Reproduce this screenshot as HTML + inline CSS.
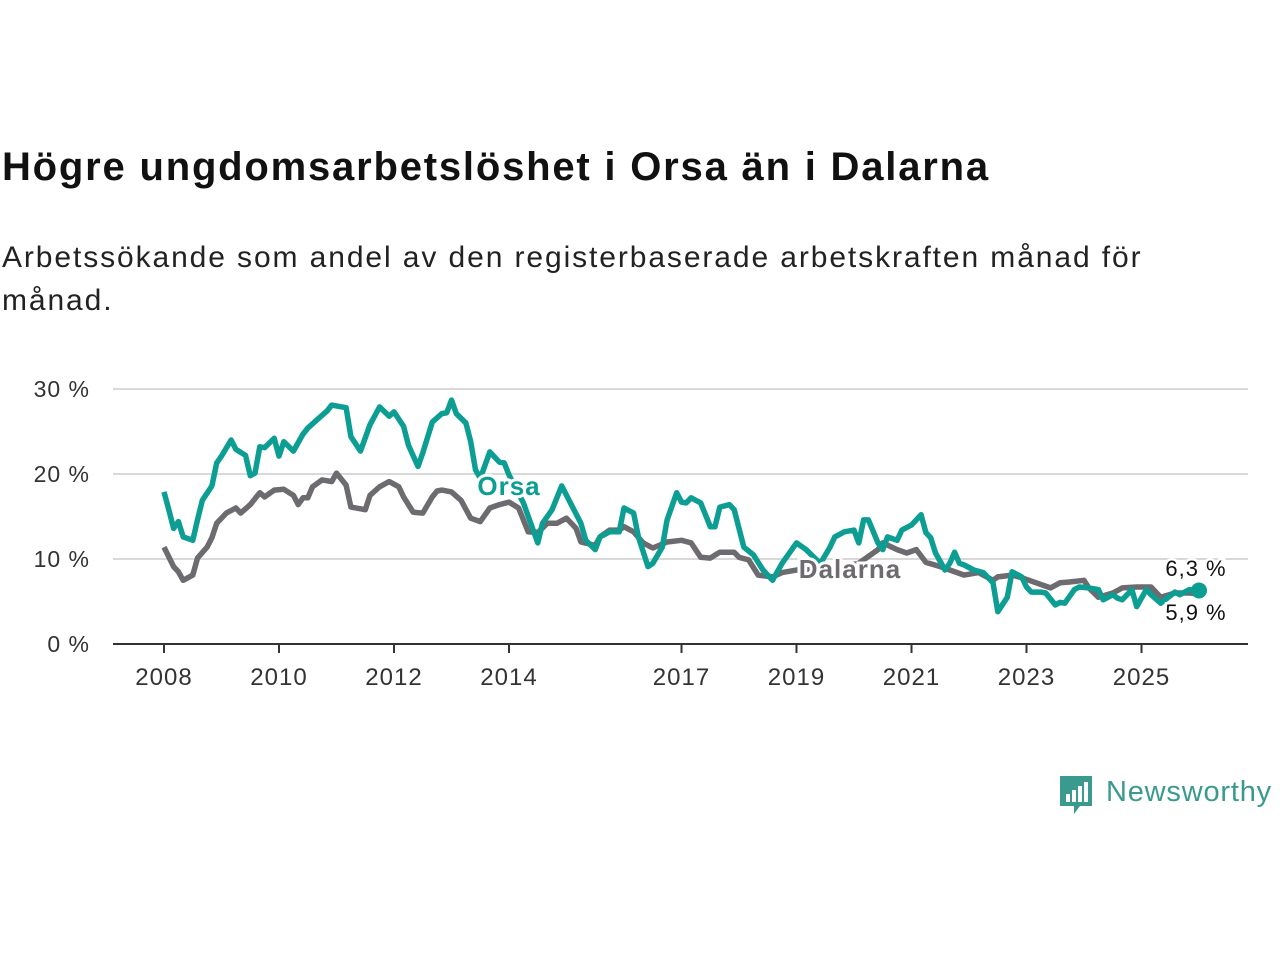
<!DOCTYPE html>
<html><head><meta charset="utf-8">
<style>
body{margin:0;background:#fff;width:1280px;height:960px;overflow:hidden;font-family:"Liberation Sans",sans-serif;}
h1{position:absolute;left:2px;top:145px;margin:0;font-size:40px;font-weight:bold;color:#111;letter-spacing:1.8px}
.sub{position:absolute;left:2px;top:236px;margin:0;font-size:30px;line-height:43px;color:#222;width:1250px;letter-spacing:1.9px}
svg{position:absolute;left:0;top:0}
</style></head><body>
<h1>Högre ungdomsarbetslöshet i Orsa än i Dalarna</h1>
<p class="sub">Arbetssökande som andel av den registerbaserade arbetskraften månad för<br>månad.</p>
<svg id="chart" width="1280" height="960"></svg>
<script>
const yTicks=[0,10,20,30];
const yTickLabels=["0 %","10 %","20 %","30 %"];
const xTickYears=[2008,2010,2012,2014,2017,2019,2021,2023,2025];
const orsaMonths=[0,1,2,3,4,6,7,8,10,11,12,14,15,17,18,19,20,21,23,24,25,27,29,30,32,34,35,38,39,41,43,45,47,48,50,51,53,54,56,58,59,60,61,63,64,65,66,68,70,71,72,75,78,79,81,83,84,85,87,88,90,91,93,95,96,98,99,101,102,104,105,107,108,109,110,112,114,115,116,118,119,121,123,125,127,129,132,134,136,137,139,140,142,144,145,146,147,149,150,151,153,154,156,158,159,160,161,163,164,165,166,167,169,171,173,174,176,177,179,180,181,183,184,186,187,188,190,191,193,195,196,198,199,200,202,203,205,206,208,211,212,214,216];
const orsaValues=[17.9,15.8,13.6,14.4,12.6,12.2,14.6,16.9,18.6,21.3,22.1,24,22.9,22.2,19.8,20.1,23.2,23.1,24.2,22.1,23.8,22.7,24.7,25.4,26.4,27.4,28.1,27.8,24.4,22.7,25.8,27.9,26.8,27.3,25.6,23.4,20.9,22.5,26.1,27.1,27.2,28.7,27.1,26,23.8,20.5,19.5,22.6,21.4,21.3,19.9,16.6,11.9,14.2,15.8,18.6,17.5,16.4,14.2,12.2,11.1,12.6,13.2,13.2,16,15.4,12.6,9.1,9.5,11.4,14.6,17.8,16.7,16.6,17.2,16.6,13.8,13.8,16.1,16.4,15.8,11.4,10.5,8.7,7.5,9.5,11.9,11.1,10,9.5,11.4,12.6,13.2,13.4,11.9,14.6,14.6,11.9,11.1,12.6,12.2,13.4,14,15.2,13.1,12.5,10.7,8.7,9.5,10.8,9.5,9.3,8.7,8.4,7.2,3.8,5.5,8.5,7.9,6.7,6.1,6.1,6.0,4.6,4.9,4.8,6.4,6.7,6.6,6.4,5.2,5.8,5.4,5.2,6.4,4.4,6.4,5.8,4.8,6.1,5.8,6.4,6.3];
const dalMonths=[0,2,3,4,6,7,9,10,11,13,15,16,18,20,21,23,25,27,28,29,30,31,33,35,36,38,39,42,43,45,47,49,50,52,54,56,57,58,60,62,64,66,68,70,72,74,76,78,80,82,84,86,87,90,91,93,95,96,98,100,102,105,108,110,112,114,116,119,120,122,124,127,129,133,137,141,145,149,150,153,155,157,159,162,164,167,170,173,174,177,179,182,185,187,189,192,193,195,198,200,203,206,207,208,211,214,216];
const dalValues=[11.4,9.1,8.5,7.5,8.1,10.1,11.4,12.5,14.2,15.4,16,15.4,16.4,17.8,17.3,18.1,18.2,17.5,16.4,17.2,17.2,18.5,19.3,19.1,20.1,18.7,16.1,15.8,17.5,18.5,19.1,18.5,17.3,15.5,15.4,17.3,18,18.1,17.9,16.9,14.8,14.4,16,16.4,16.7,16,13.2,13.1,14.2,14.2,14.8,13.6,12,11.6,12.6,13.4,13.4,13.8,13.2,11.9,11.3,12,12.2,11.9,10.2,10.1,10.8,10.8,10.2,9.9,8.1,7.9,8.4,8.8,8.6,9,9.5,11.1,11.9,11.1,10.7,11.1,9.6,9.1,8.7,8.1,8.4,7.5,7.9,8.1,7.8,7.2,6.6,7.2,7.3,7.5,6.6,5.5,6,6.6,6.7,6.7,6.1,5.5,6,6,5.9];
const orsaLast="6,3 %", dalLast="5,9 %";

const NS="http://www.w3.org/2000/svg";
const svg=document.getElementById('chart');
const xMonth=m=>164+m*57.5/12;
const xYear=y=>164+(y-2008)*57.5;
const yVal=v=>644-v*8.5;
function mk(tag,attrs,parent){const e=document.createElementNS(NS,tag);for(const k in attrs)e.setAttribute(k,attrs[k]);(parent||svg).appendChild(e);return e;}

yTicks.forEach((t,i)=>{
  if(t>0){const g=mk('line',{x1:113,x2:1248,y1:yVal(t),y2:yVal(t),stroke:'#d9d9d9','stroke-width':2});
  
  }
  const tx=mk('text',{x:90,y:yVal(t)+8,'text-anchor':'end','font-size':23,'letter-spacing':1,fill:'#333'});
  tx.textContent=yTickLabels[i];
  
  
});
const ax=mk('line',{x1:113,x2:1248,y1:644,y2:644,stroke:'#333','stroke-width':2});


xTickYears.forEach(y=>{
  const t=mk('line',{x1:xYear(y),x2:xYear(y),y1:644,y2:653,stroke:'#333','stroke-width':2});
  
  
  const l=mk('text',{x:xYear(y),y:685,'text-anchor':'middle','font-size':24,'letter-spacing':1,fill:'#333'});
  l.textContent=y;
  
  
});
function path(ms,vs){return ms.map((m,i)=>(i?'L':'M')+xMonth(m).toFixed(1)+','+yVal(vs[i]).toFixed(1)).join('');}
const dl=mk('path',{d:path(dalMonths,dalValues),fill:'none',stroke:'#6d6b70','stroke-width':5.5,'stroke-linejoin':'round'});


const ol=mk('path',{d:path(orsaMonths,orsaValues),fill:'none',stroke:'#0c9e93','stroke-width':5.5,'stroke-linejoin':'round'});


const lastM=orsaMonths[orsaMonths.length-1];
const dot=mk('circle',{cx:xMonth(lastM),cy:yVal(orsaValues[orsaValues.length-1]),r:8,fill:'#0c9e93'});


const lo=mk('text',{x:509,y:495,'text-anchor':'middle','font-size':26,'font-weight':'bold','letter-spacing':1,fill:'#0c9e93',stroke:'#fff','stroke-width':6,'paint-order':'stroke'});
lo.textContent='Orsa';


const ld=mk('text',{x:850,y:578,'text-anchor':'middle','font-size':26,'font-weight':'bold','letter-spacing':1,fill:'#6d6b70',stroke:'#fff','stroke-width':6,'paint-order':'stroke'});
ld.textContent='Dalarna';


const e1=mk('text',{x:1196,y:576,'text-anchor':'middle','font-size':22,'letter-spacing':1,fill:'#111',stroke:'#fff','stroke-width':5,'paint-order':'stroke'});
e1.textContent=orsaLast;


const e2=mk('text',{x:1196,y:620,'text-anchor':'middle','font-size':22,'letter-spacing':1,fill:'#111',stroke:'#fff','stroke-width':5,'paint-order':'stroke'});
e2.textContent=dalLast;


</script>
<svg width="230" height="50" style="left:1055px;top:770px">
<path d="M5 6h32v30h-12l-6 8v-8h-14z" fill="#3a9a8e"/>
<rect x="11" y="24" width="4" height="8" fill="#fff"/><rect x="17" y="20" width="4" height="12" fill="#fff"/><rect x="23" y="16" width="4" height="16" fill="#fff"/><rect x="29" y="12" width="4" height="20" fill="#fff"/>
<text x="51" y="31" font-size="29" letter-spacing="0.8" fill="#3a9a8e" font-family="Liberation Sans, sans-serif">Newsworthy</text>
</svg>
</body></html>
